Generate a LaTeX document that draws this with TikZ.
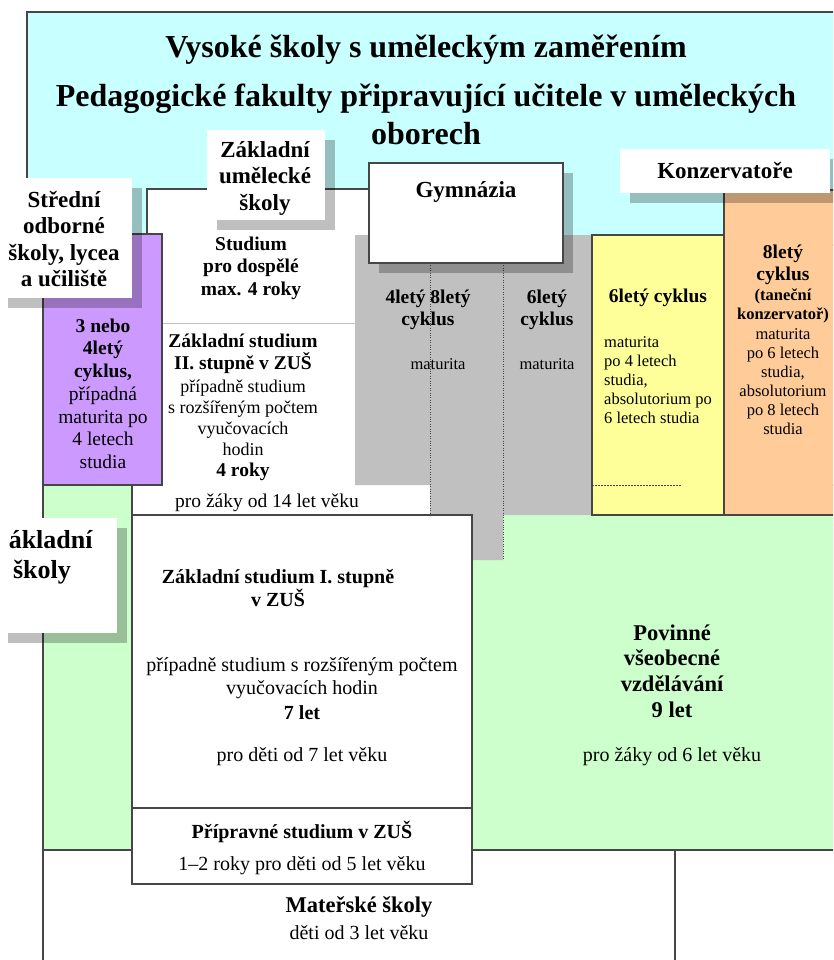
\documentclass[tikz,border=0pt]{standalone}
\usepackage{fontspec}
\setmainfont{Liberation Serif}
\usetikzlibrary{shadows}

\definecolor{skyc}{RGB}{200,255,255}
\definecolor{grnc}{RGB}{204,255,204}
\definecolor{prpc}{RGB}{204,153,255}
\definecolor{ylwc}{RGB}{255,255,153}
\definecolor{orgc}{RGB}{255,204,153}
\definecolor{gryc}{RGB}{192,192,192}
\definecolor{lnc}{RGB}{70,70,70}

\begin{document}
\begin{tikzpicture}[x=1pt,y=-1pt,
  bx/.style={draw=lnc, line width=1.2pt},
  lab/.style={fill=white, inner sep=0pt, drop shadow={shadow xshift=10pt, shadow yshift=-10pt, fill=black, opacity=0.25}},
  big/.style={font=\bfseries\fontsize{32}{38}\selectfont, align=center, inner sep=0pt},
  lt/.style={font=\bfseries\fontsize{23}{26.5}\selectfont, align=center, inner sep=0pt},
  hd/.style={font=\bfseries\fontsize{19.5}{22.5}\selectfont, align=center, inner sep=0pt},
  tx/.style={font=\fontsize{19.5}{22.5}\selectfont, align=center, inner sep=0pt},
  sm/.style={font=\fontsize{16.5}{19}\selectfont, align=center, inner sep=0pt}]
  \useasboundingbox (0,0) rectangle (833,960);
  \clip (8,0) rectangle (833,960);

  % background areas
  \path[fill=skyc, bx] (27,12) rectangle (850,245);
  \path[fill=grnc, bx] (43,485) rectangle (850,850);
  \draw[bx] (43,850) -- (43,975);
  \draw[bx] (675,850) -- (675,975);

  % ZUS upper part
  \fill[white] (147,189) -- (430,189) -- (430,515) -- (132,515) -- (132,485) -- (147,485) -- cycle;
  \draw[bx] (147,234) -- (147,189) -- (369,189);
  \draw[bx] (132,485) -- (132,515) -- (430,515);
  \draw[gray!50, line width=0.6pt] (162,323) -- (355,323);

  % gymnazia columns
  \fill[gryc] (355,235) -- (592,235) -- (592,515) -- (503,515) -- (503,560) -- (430,560) -- (430,485) -- (355,485) -- cycle;
  \draw[lnc, dotted] (430,263) -- (430,560);
  \draw[lnc, dotted] (503,263) -- (503,560);

  \path[fill=prpc, bx] (43,234) rectangle (162,485);
  \path[fill=ylwc, bx] (592,235) rectangle (724,515);
  \draw[lnc, line width=0.5pt, dash pattern=on 2pt off 1pt] (592,485) -- (681,485);
  \path[fill=orgc, bx] (724,190) rectangle (850,515);

  \path[fill=white, bx] (132,515) rectangle (472,808);
  \path[fill=white, bx] (132,808) rectangle (472,884);

  % label boxes
  \node[lab, minimum width=136pt, minimum height=120pt] (sosbox) at (64,238) {};
  \node[lab, minimum width=118pt, minimum height=90pt] (zusbox) at (266,175) {};
  \node[lab, bx, minimum width=194pt, minimum height=100pt] (gymbox) at (466,213) {};
  \node[lab, minimum width=210pt, minimum height=44pt] (konbox) at (725,171) {};
  \node[lab, minimum width=127pt, minimum height=115pt] (zsbox) at (53,575) {};

  % texts
  \node[big] (vs) at (426,50) {Vysoké školy s uměleckým zaměřením};
  \node[big] (pf) at (426,114) {Pedagogické fakulty připravující učitele v uměleckých\\oborech};

  \node[lt] (sos) at (64,239) {Střední\\odborné\\školy, lycea\\a učiliště};
  \node[lt] (zus) at (265,178) {Základní\\umělecké\\školy};
  \node[lt] (gym) at (466,192) {Gymnázia};
  \node[lt] (kon) at (725,171) {Konzervatoře};
  \node[font=\bfseries\fontsize{26}{30}\selectfont, align=center, inner sep=0pt] (zs) at (42,557) {Základní\\školy};

  \node[hd] (sosa) at (103,350) {3 nebo\\4letý\\cyklus,};
  \node[tx] (sosb) at (103,428) {případná\\maturita po\\4 letech\\studia};

  \node[hd] (dosp) at (251,268) {Studium\\pro dospělé\\max. 4 roky};
  \node[hd] (zus2) at (243,354) {Základní studium\\II. stupně v ZUŠ};
  \node[font=\fontsize{18}{21}\selectfont, align=center, inner sep=0pt] (zus2b) at (243,418) {případně studium\\s rozšířeným počtem\\vyučovacích\\hodin};
  \node[hd] (zus2c) at (243,472) {4 roky};
  \node[tx] (zus2d) at (267,503) {pro žáky od 14 let věku};

  \node[hd] (g48) at (428,310) {4letý 8letý\\cyklus};
  \node[sm] (g48m) at (438,364) {maturita};
  \node[hd] (g6) at (547,310) {6letý\\cyklus};
  \node[sm] (g6m) at (547,364) {maturita};

  \node[hd] (k6) at (658,298) {6letý cyklus};
  \node[sm, align=left, anchor=west] (k6m) at (604,380) {maturita\\po 4 letech\\studia,\\absolutorium po\\6 letech studia};

  \node[hd] (k8) at (783,265) {8letý\\cyklus};
  \node[sm, font=\bfseries\fontsize{16.5}{19}\selectfont] (k8t) at (783,306) {(taneční\\konzervatoř)};
  \node[sm] (k8m) at (783,382) {maturita\\po 6 letech\\studia,\\absolutorium\\po 8 letech\\studia};

  \node[hd, font=\bfseries\fontsize{20}{23}\selectfont] (zus1) at (278,588) {Základní studium I. stupně\\v ZUŠ};
  \node[tx, font=\fontsize{20}{23}\selectfont] (zus1b) at (302,678) {případně studium s rozšířeným počtem\\vyučovacích hodin};
  \node[hd, font=\bfseries\fontsize{20}{23}\selectfont] (zus1c) at (302,713) {7 let};
  \node[tx, font=\fontsize{20}{23}\selectfont] (zus1d) at (302,757) {pro děti od 7 let věku};

  \node[hd, font=\bfseries\fontsize{20}{23}\selectfont] (prip) at (302,832) {Přípravné studium v ZUŠ};
  \node[tx, font=\fontsize{20}{23}\selectfont] (pripb) at (302,866) {1–2 roky pro děti od 5 let věku};

  \node[hd, font=\bfseries\fontsize{22.5}{25.7}\selectfont] (pov) at (672,671) {Povinné\\všeobecné\\vzdělávání\\9 let};
  \node[tx, font=\fontsize{20}{23}\selectfont] (povb) at (672,757) {pro žáky od 6 let věku};

  \node[hd, font=\bfseries\fontsize{22.5}{25.7}\selectfont] (ms) at (359,907) {Mateřské školy};
  \node[tx, font=\fontsize{20}{23}\selectfont] (msb) at (359,933) {děti od 3 let věku};
\end{tikzpicture}
\end{document}
